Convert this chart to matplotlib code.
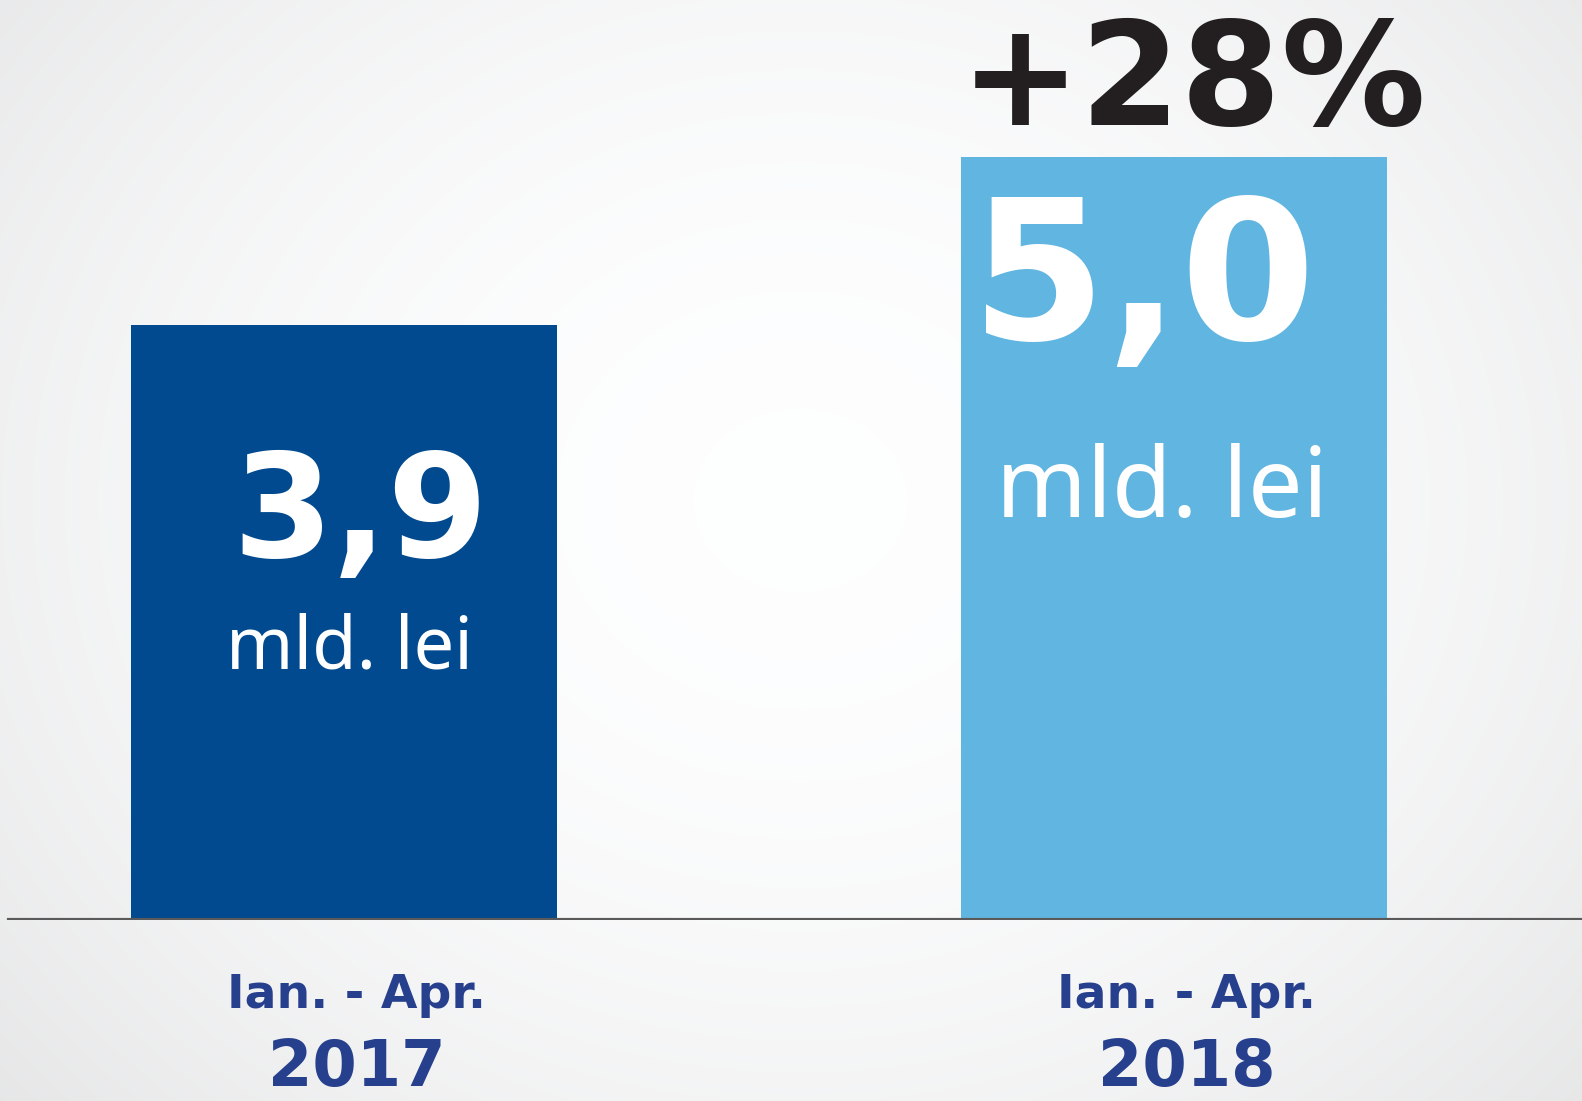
import numpy as np
import matplotlib.pyplot as plt

# data
periods = ["Ian. - Apr.", "Ian. - Apr."]
years = ["2017", "2018"]
values = [3.9, 5.0]
value_labels = ["3,9", "5,0"]
unit = "mld. lei"
change_label = "+28%"

BAR_COLORS = ["#024a8f", "#61b5e1"]
NAVY = "#27408e"
DARK = "#231f20"

W, H, DPI = 1582, 1101, 100
fig = plt.figure(figsize=(W / DPI, H / DPI), dpi=DPI)

# radial background: white in the middle, light grey at the edges
bg = fig.add_axes([0, 0, 1, 1], zorder=-1)
yy, xx = np.mgrid[0:H, 0:W]
r = np.sqrt(((xx - 800) / 1050) ** 2 + ((yy - 500) / 900) ** 2)
shade = 1.0 - 0.09 * np.clip(r, 0, 1.3) ** 2
bg.imshow(np.dstack([shade * 0.995, shade * 0.997, shade]), aspect="auto",
          extent=[0, 1, 0, 1], vmin=0, vmax=1)
bg.axis("off")

ax = fig.add_axes([0, 181 / H, 1, 1 - 181 / H])
ax.patch.set_alpha(0)
x = np.arange(len(values))
ax.bar(x, values, width=0.513, color=BAR_COLORS, zorder=2)
ax.set_xlim(-0.4145, 1.4916)
ax.set_ylim(0, 6.03)
ax.axhline(0, xmin=0.006, xmax=1, color="#5a5a5a", lw=3, zorder=3)
ax.axis("off")

heavy = dict(family="DejaVu Sans", fontweight="bold")
light = dict(family=["Noto Sans", "DejaVu Sans"], fontweight="light")

# value labels inside the bars
ax.text(x[0] + 0.02, 2.38, value_labels[0], color="white", fontsize=104,
        ha="center", va="baseline", zorder=4, **heavy)
ax.text(x[0] + 0.007, 1.646, unit, color="white", fontsize=52,
        ha="center", va="baseline", zorder=4, **light)
ax.text(x[1] - 0.037, 3.81, value_labels[1], color="white", fontsize=140,
        ha="center", va="baseline", zorder=4, **heavy)
ax.text(x[1] - 0.014, 2.64, unit, color="white", fontsize=70,
        ha="center", va="baseline", zorder=4, **light)

# change label above the second bar
ax.text(x[1] + 0.023, 5.21, change_label, color=DARK, fontsize=104,
        ha="center", va="baseline", zorder=4, **heavy)

# category labels below the baseline
for i in range(len(values)):
    ax.text(x[i] + 0.015, -0.58, periods[i], color=NAVY, fontsize=34,
            ha="center", va="baseline", clip_on=False, **heavy)
    ax.text(x[i] + 0.015, -1.09, years[i], color=NAVY, fontsize=46,
            ha="center", va="baseline", clip_on=False, **heavy)

fig.savefig("out.png", dpi=DPI)
